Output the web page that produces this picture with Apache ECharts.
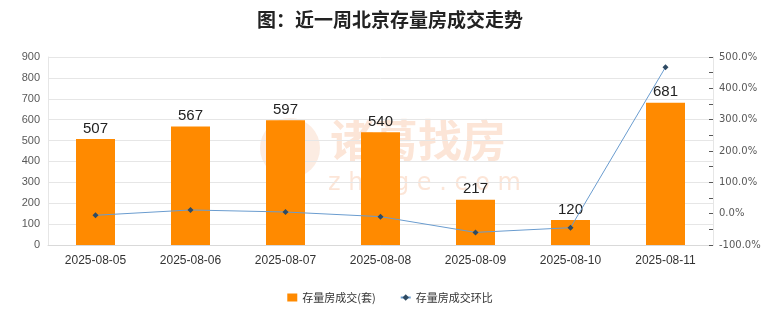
<!DOCTYPE html>
<html><head><meta charset="utf-8">
<script src="https://cdn.jsdelivr.net/npm/echarts@6/dist/echarts.min.js"></script>
<style>html,body{margin:0;padding:0;background:#fff}#c{width:780px;height:328px}</style>
</head><body><div id="c"></div>
<script>
const categories = ['2025-08-05','2025-08-06','2025-08-07','2025-08-08','2025-08-09','2025-08-10','2025-08-11'];
const deals = [507, 567, 597, 540, 217, 120, 681];
const ratio = [-5.2, 11.8, 5.3, -9.5, -59.8, -44.7, 467.5];
const leftTicks = {min: 0, max: 900, interval: 100};
const rightTicks = {min: -100, max: 500, interval: 100};

const chart = echarts.init(document.getElementById('c'));
chart.setOption({
  animation: false,
  title: {text: '图：近一周北京存量房成交走势', left: 'center', top: 5,
    textStyle: {fontFamily: 'Noto Sans CJK SC', fontSize: 19, fontWeight: 'bold', color: '#222'}},
  graphic: [
    {type: 'text', left: 330, top: 118, style: {text: '诸葛找房', font: 'bold 44px "Noto Sans CJK SC"', fill: 'rgba(245,180,140,0.35)'}},
    {type: 'circle', shape: {cx: 290, cy: 148, r: 30}, style: {fill: 'rgba(245,180,140,0.25)'}},
    {type: 'text', left: 328, top: 172, style: {text: 'z h u g e . c o m', font: '24px "DejaVu Sans"', fill: 'rgba(245,180,140,0.35)'}}
  ],
  legend: {bottom: 20, left: 'center', itemGap: 24, itemWidth: 10, itemHeight: 8,
    textStyle: {fontFamily: 'Noto Sans CJK SC', fontSize: 11, color: '#333'},
    data: [{name: '存量房成交(套)', icon: 'rect'}, {name: '存量房成交环比'}]},
  grid: {left: 48, right: 67, top: 57, bottom: 83},
  xAxis: {type: 'category', data: categories,
    axisLine: {lineStyle: {color: '#d9d9d9'}}, axisTick: {show: false},
    axisLabel: {fontFamily: 'Liberation Sans', fontSize: 12, color: '#333', margin: 10}},
  yAxis: [
    {type: 'value', min: leftTicks.min, max: leftTicks.max, interval: leftTicks.interval,
      axisLine: {show: true, lineStyle: {color: '#e6e6e6'}}, axisTick: {show: false},
      axisLabel: {fontFamily: 'Liberation Sans', fontSize: 11, color: '#595959', margin: 8},
      splitLine: {lineStyle: {color: '#e6e6e6'}}},
    {type: 'value', min: rightTicks.min, max: rightTicks.max, interval: rightTicks.interval,
      axisLine: {show: true, lineStyle: {color: '#e6e6e6'}},
      axisTick: {show: true, inside: true, length: 4, lineStyle: {color: '#595959'}},
      minorTick: {show: true, splitNumber: 2, length: 4, lineStyle: {color: '#595959'}},
      axisLabel: {fontFamily: 'DejaVu Sans', fontSize: 10, color: '#595959', margin: 6,
        formatter: v => v.toFixed(1) + '%'},
      splitLine: {show: false}}
  ],
  series: [
    {name: '存量房成交(套)', type: 'bar', data: deals, barWidth: 39, yAxisIndex: 0,
      itemStyle: {color: '#FF8A00'},
      label: {show: true, position: 'top', fontFamily: 'Liberation Sans', fontSize: 15, color: '#222', distance: 3}},
    {name: '存量房成交环比', type: 'line', data: ratio, yAxisIndex: 1,
      symbol: 'diamond', symbolSize: 6,
      lineStyle: {color: '#6a9ccf', width: 1},
      itemStyle: {color: '#2f4b63'}}
  ]
});
</script></body></html>
